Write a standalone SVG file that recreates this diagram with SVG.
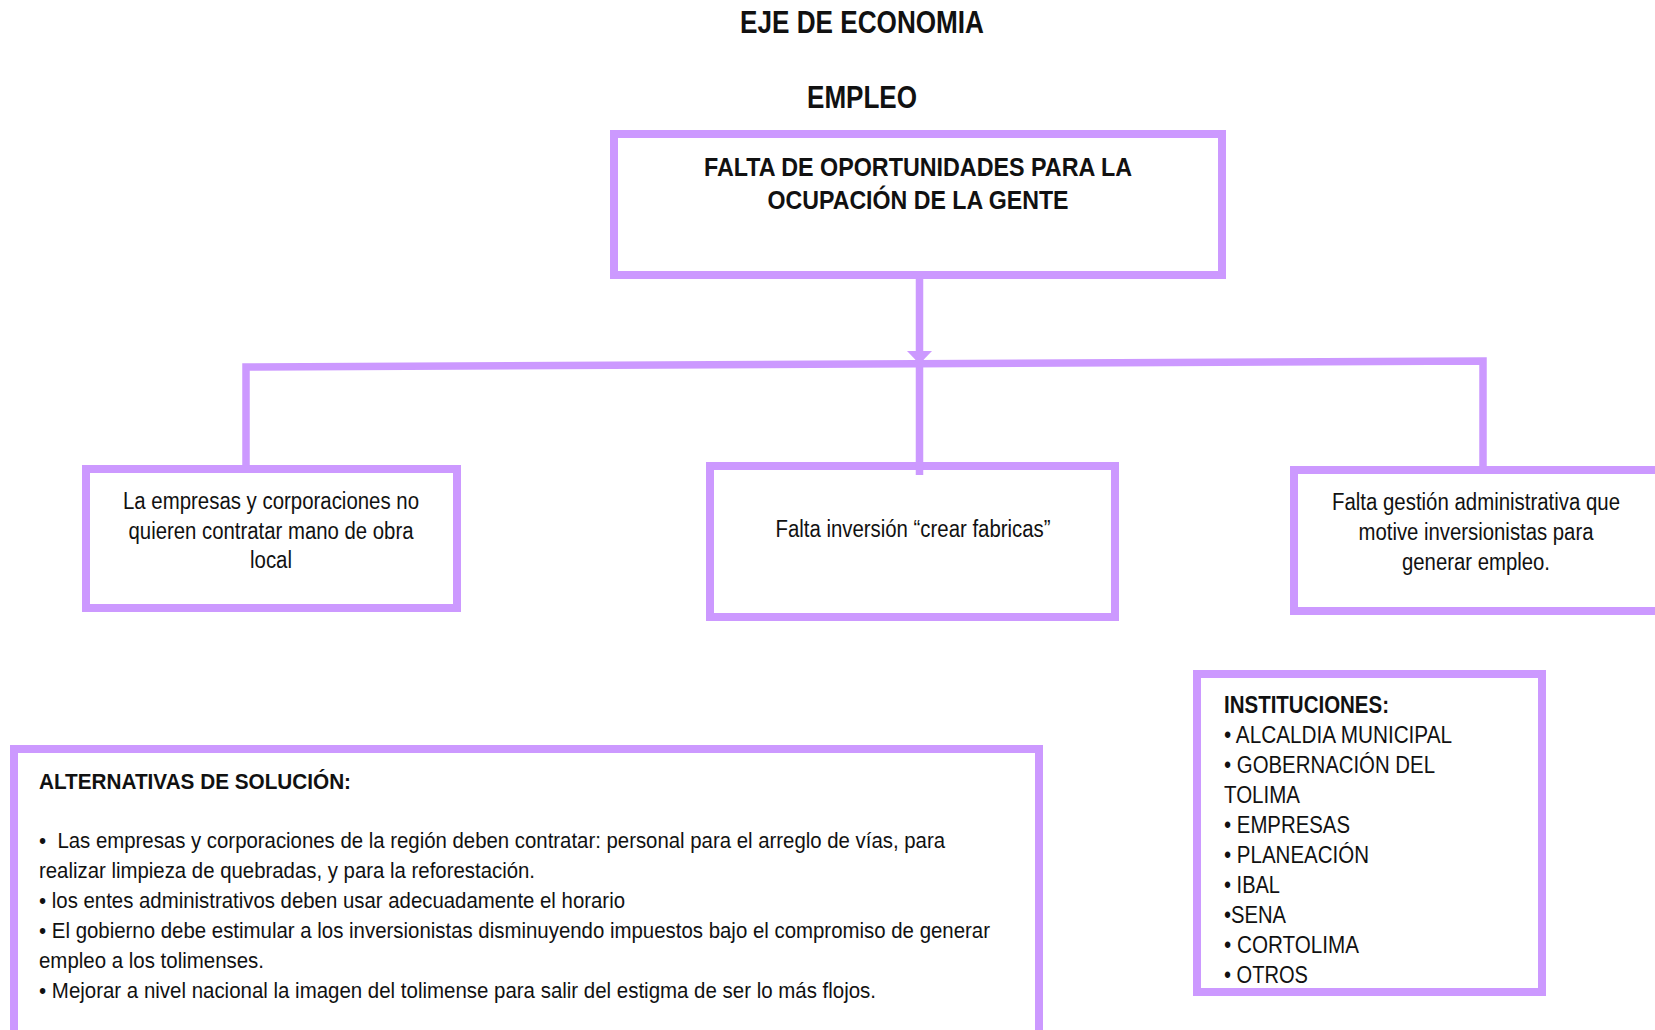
<svg xmlns="http://www.w3.org/2000/svg" width="1655" height="1030" viewBox="0 0 1655 1030">
<style>
.box{fill:#fff;stroke:#CC99FF;stroke-width:8}
.con{fill:none;stroke:#CC99FF;stroke-width:7.5;stroke-linejoin:miter}
text{font-family:"Liberation Sans",Arial,sans-serif;fill:#111}
.t{font-size:32px;font-weight:bold;text-anchor:middle}
.h{font-size:26px;font-weight:bold;text-anchor:middle}
.n{font-size:23px;text-anchor:middle}
.b{font-size:22.5px}
.bb{font-size:22px;font-weight:bold}
.i{font-size:23px}
.ib{font-size:23px;font-weight:bold}
</style>
<rect width="1655" height="1030" fill="#fff"/>
<g id="titles">
<text class="t" x="862" y="33" textLength="244" lengthAdjust="spacingAndGlyphs">EJE DE ECONOMIA</text>
<text class="t" x="862" y="108" textLength="110" lengthAdjust="spacingAndGlyphs">EMPLEO</text>
</g>
<g id="problema">
<rect class="box" x="614" y="134" width="608" height="141"/>
<text class="h" x="918" y="176" textLength="428" lengthAdjust="spacingAndGlyphs">FALTA DE OPORTUNIDADES PARA LA</text>
<text class="h" x="918" y="209" textLength="301" lengthAdjust="spacingAndGlyphs">OCUPACIÓN DE LA GENTE</text>
</g>
<g id="causa1">
<rect class="box" x="86" y="469" width="371" height="139"/>
<text class="n" x="271" y="509" textLength="296" lengthAdjust="spacingAndGlyphs">La empresas y corporaciones no</text>
<text class="n" x="271" y="539" textLength="285" lengthAdjust="spacingAndGlyphs">quieren contratar mano de obra</text>
<text class="n" x="271" y="568" textLength="42" lengthAdjust="spacingAndGlyphs">local</text>
</g>
<g id="causa2">
<rect class="box" x="710" y="466" width="405" height="151"/>
<text class="n" x="913" y="537" textLength="275" lengthAdjust="spacingAndGlyphs">Falta inversión “crear fabricas”</text>
</g>
<g id="causa3">
<rect class="box" x="1294" y="470" width="380" height="141"/>
<text class="n" x="1476" y="510" textLength="288" lengthAdjust="spacingAndGlyphs">Falta gestión administrativa que</text>
<text class="n" x="1476" y="540" textLength="235" lengthAdjust="spacingAndGlyphs">motive inversionistas para</text>
<text class="n" x="1476" y="570" textLength="148" lengthAdjust="spacingAndGlyphs">generar empleo.</text>
</g>
<g id="alternativas">
<rect class="box" x="14" y="749" width="1025" height="300"/>
<text class="bb" x="39" y="789" textLength="312" lengthAdjust="spacingAndGlyphs">ALTERNATIVAS DE SOLUCIÓN:</text>
<text class="b" x="39" y="848" textLength="906" lengthAdjust="spacingAndGlyphs">•&#160; Las empresas y corporaciones de la región deben contratar: personal para el arreglo de vías, para</text>
<text class="b" x="39" y="878" textLength="496" lengthAdjust="spacingAndGlyphs">realizar limpieza de quebradas, y para la reforestación.</text>
<text class="b" x="39" y="908" textLength="586" lengthAdjust="spacingAndGlyphs">• los entes administrativos deben usar adecuadamente el horario</text>
<text class="b" x="39" y="938" textLength="951" lengthAdjust="spacingAndGlyphs">• El gobierno debe estimular a los inversionistas disminuyendo impuestos bajo el compromiso de generar</text>
<text class="b" x="39" y="968" textLength="225" lengthAdjust="spacingAndGlyphs">empleo a los tolimenses.</text>
<text class="b" x="39" y="998" textLength="837" lengthAdjust="spacingAndGlyphs">• Mejorar a nivel nacional la imagen del tolimense para salir del estigma de ser lo más flojos.</text>
</g>
<g id="instituciones">
<rect class="box" x="1197" y="674" width="345" height="318"/>
<text class="ib" x="1224" y="713" textLength="165" lengthAdjust="spacingAndGlyphs">INSTITUCIONES:</text>
<text class="i" x="1224" y="743" textLength="228" lengthAdjust="spacingAndGlyphs">• ALCALDIA MUNICIPAL</text>
<text class="i" x="1224" y="773" textLength="211" lengthAdjust="spacingAndGlyphs">• GOBERNACIÓN DEL</text>
<text class="i" x="1224" y="803" textLength="76" lengthAdjust="spacingAndGlyphs">TOLIMA</text>
<text class="i" x="1224" y="833" textLength="126" lengthAdjust="spacingAndGlyphs">• EMPRESAS</text>
<text class="i" x="1224" y="863" textLength="145" lengthAdjust="spacingAndGlyphs">• PLANEACIÓN</text>
<text class="i" x="1224" y="893" textLength="56" lengthAdjust="spacingAndGlyphs">• IBAL</text>
<text class="i" x="1224" y="923" textLength="62" lengthAdjust="spacingAndGlyphs">•SENA</text>
<text class="i" x="1224" y="953" textLength="135" lengthAdjust="spacingAndGlyphs">• CORTOLIMA</text>
<text class="i" x="1224" y="983" textLength="84" lengthAdjust="spacingAndGlyphs">• OTROS</text>
</g>
<g id="connectors">
<path class="con" d="M919.5,279 V475"/>
<polygon points="907,351 932,351 919.5,364" fill="#CC99FF"/>
<path class="con" d="M246,466 V367 L1483,361 V468"/>
</g>
</svg>
